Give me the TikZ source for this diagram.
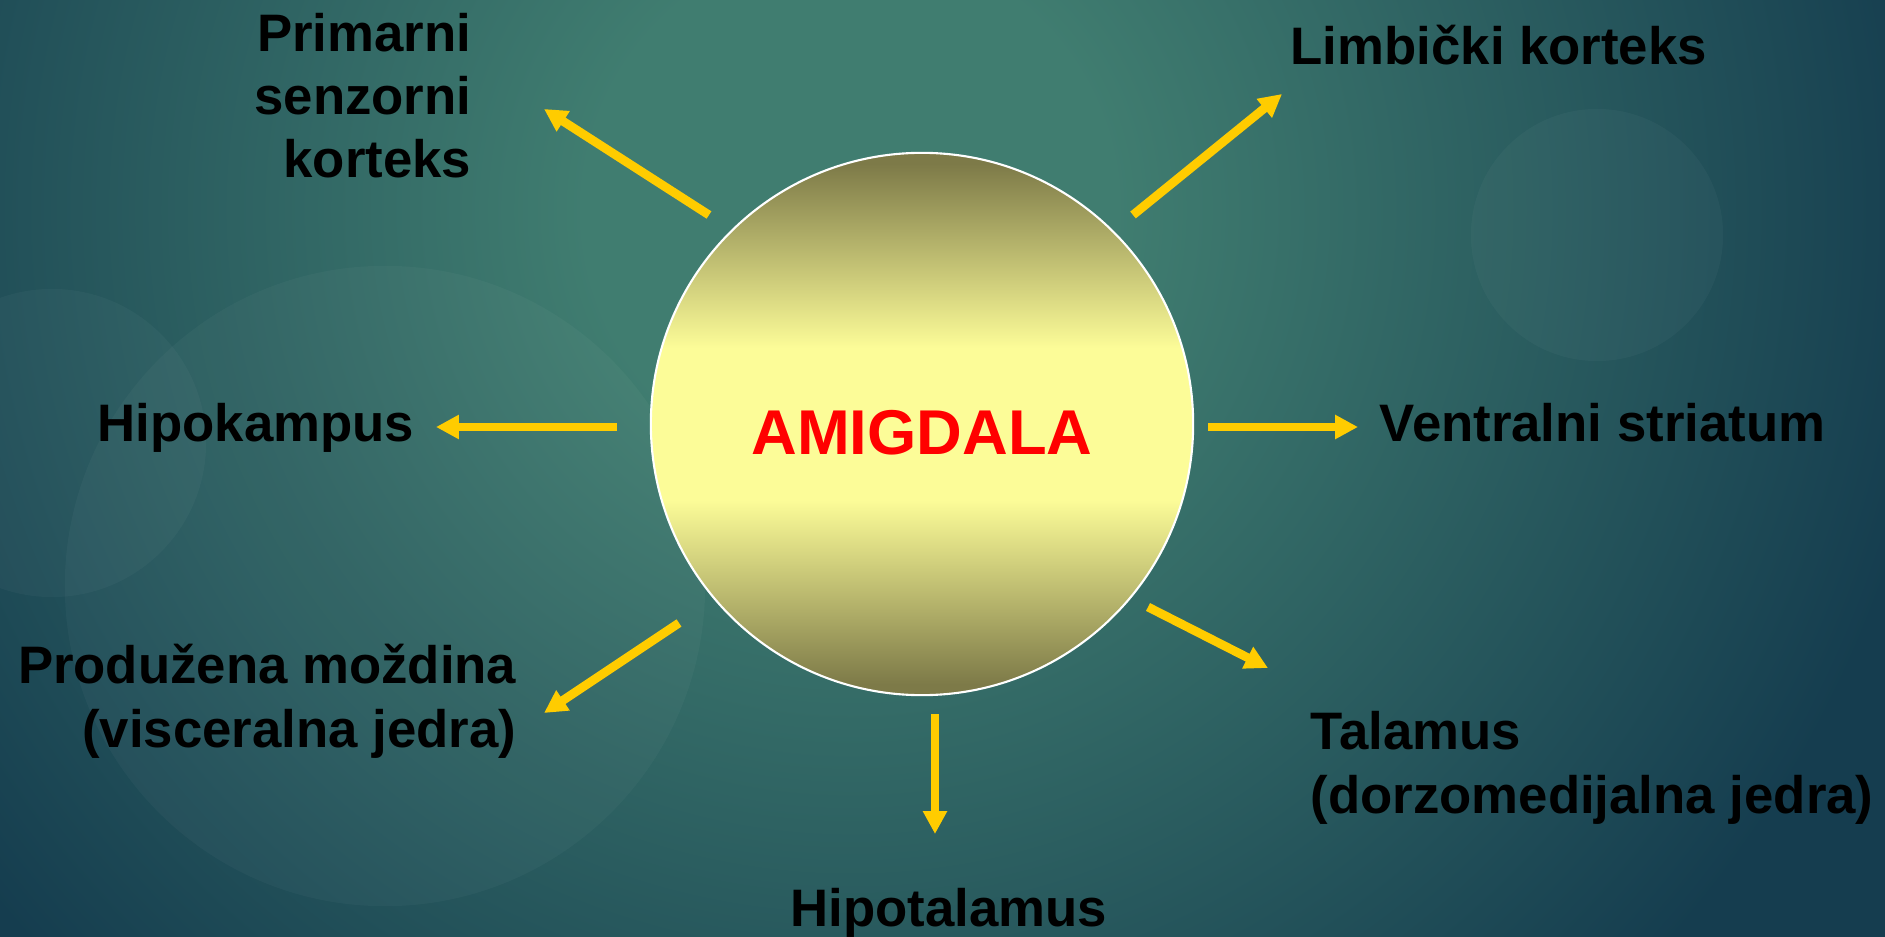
\documentclass[tikz,border=0pt]{standalone}
\usepackage{fontspec}
\setmainfont{Liberation Sans}
\usetikzlibrary{arrows.meta}

\definecolor{bgteal}{HTML}{407D70}
\definecolor{bgdark}{HTML}{153D4F}
\definecolor{amolive}{HTML}{7D7A48}
\definecolor{amyellow}{HTML}{FCFC98}
\definecolor{arrowgold}{HTML}{FFCC00}

\pgfdeclareradialshading{bgglow}{\pgfpoint{0bp}{0bp}}{color(0bp)=(bgteal); color(6bp)=(bgteal); color(25bp)=(bgdark); color(50bp)=(bgdark)}
\pgfdeclareverticalshading{amyg}{100bp}{color(0bp)=(amolive); color(26bp)=(amolive); color(43bp)=(amyellow); color(57bp)=(amyellow); color(74bp)=(amolive); color(100bp)=(amolive)}

\begin{document}
\begin{tikzpicture}[x=0.01cm,y=-0.01cm,
    lbl/.style={font=\fontsize{15}{18}\selectfont\bfseries, inner sep=0pt},
    flow/.style={draw=arrowgold, line width=2.5pt, -{Triangle[length=6.5pt,width=6.5pt]}}]
  \useasboundingbox (0,0) rectangle (1885,937);
  % backdrop
  \begin{scope}
    \clip (0,0) rectangle (1885,937);
    \fill[bgdark] (0,0) rectangle (1885,937);
    \shade[shading=bgglow] (850,210) circle (11cm);
    \fill[white, opacity=0.03] (385,586) circle (3.2cm);
    \fill[white, opacity=0.03] (52,443) circle (1.54cm);
    \fill[white, opacity=0.03] (1597,235) circle (1.26cm);
  \end{scope}

  \node[circle, minimum size=5.42cm, shading=amyg, draw=white, line width=0.6pt,
    text=red, font=\fontsize{18}{22}\selectfont\bfseries, text height=17.5pt, text depth=0pt]
    (amigdala) at (922,424) {AMIGDALA};

  \node[lbl, align=right, anchor=base east] (primarni) at (472,178) {Primarni\\senzorni\\korteks};
  \node[lbl, anchor=base west] (limbicki) at (1290,65) {Limbički korteks};
  \node[lbl, anchor=base east] (hipokampus) at (415,442) {Hipokampus};
  \node[lbl, anchor=base west] (ventralni) at (1379,442) {Ventralni striatum};
  \node[lbl, align=right, anchor=base east] (produzena) at (517,747) {Produžena moždina\\(visceralna jedra)};
  \node[lbl, align=left, anchor=base west] (talamus) at (1310,813) {Talamus\\(dorzomedijalna jedra)};
  \node[lbl, anchor=base] (hipotalamus) at (949,926) {Hipotalamus};

  % arrow ends
  \coordinate (fromprim) at (709,215);  \coordinate (toprim) at (544,109);
  \coordinate (fromlimb) at (1133,215); \coordinate (tolimb) at (1282,94);
  \coordinate (fromhipo) at (617,427);  \coordinate (tohipo) at (436,427);
  \coordinate (fromvent) at (1208,427); \coordinate (tovent) at (1358,427);
  \coordinate (fromprod) at (679,623);  \coordinate (toprod) at (544,713);
  \coordinate (fromtal) at (1148,607);  \coordinate (total) at (1268,668);
  \coordinate (fromhipot) at (935,714); \coordinate (tohipot) at (935,834);
  \foreach \a in {prim,limb,hipo,vent,prod,tal,hipot}
    \draw[flow] (from\a) -- (to\a);
\end{tikzpicture}
\end{document}
